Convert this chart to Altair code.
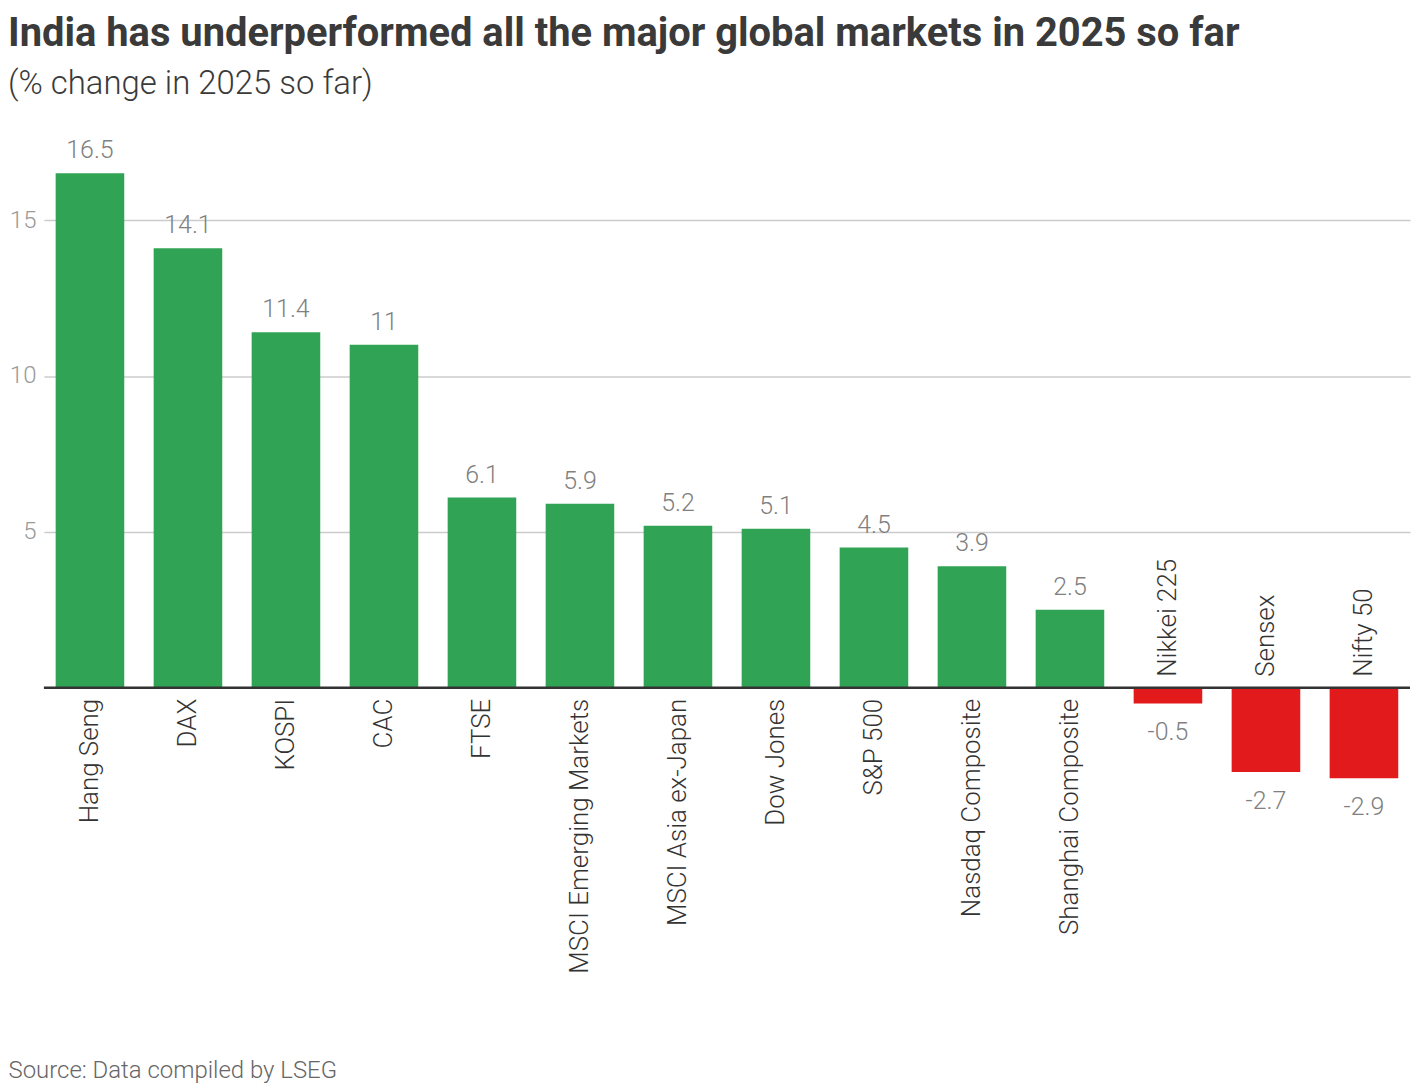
import altair as alt
import pandas as pd

categories = ["Hang Seng", "DAX", "KOSPI", "CAC", "FTSE", "MSCI Emerging Markets",
              "MSCI Asia ex-Japan", "Dow Jones", "S&P 500", "Nasdaq Composite",
              "Shanghai Composite", "Nikkei 225", "Sensex", "Nifty 50"]
values = [16.5, 14.1, 11.4, 11.0, 6.1, 5.9, 5.2, 5.1, 4.5, 3.9, 2.5, -0.5, -2.7, -2.9]
value_labels = ["16.5", "14.1", "11.4", "11", "6.1", "5.9", "5.2", "5.1", "4.5",
                "3.9", "2.5", "-0.5", "-2.7", "-2.9"]
y_ticks = [5, 10, 15]

df = pd.DataFrame({"name": categories, "value": values, "label": value_labels})
df["sign"] = ["pos" if v >= 0 else "neg" for v in values]

FONT = "Roboto"
W, H = 1370, 641

x = alt.X("name:N", sort=categories,
          scale=alt.Scale(paddingInner=0.3, paddingOuter=0.12),
          axis=alt.Axis(labels=False, ticks=False, domain=False,
                        title="Source: Data compiled by LSEG",
                        titleAnchor="start", titleAlign="left",
                        titleX=-36, titleY=297, titleBaseline="alphabetic",
                        titleFont=FONT, titleFontSize=24, titleFontWeight=300,
                        titleColor="#666666"))
y = alt.Y("value:Q", scale=alt.Scale(domain=[-3, 17.5], nice=False, zero=False),
          axis=alt.Axis(values=y_ticks, title=None, domain=False, ticks=False,
                        labelPadding=8, labelFont=FONT, labelFontSize=24,
                        labelColor="#999999", labelFontWeight=300,
                        grid=True, gridColor="#cccccc", gridWidth=1.5))

base = alt.Chart(df)

bars = base.mark_bar().encode(
    x=x, y=y,
    color=alt.Color("sign:N", scale=alt.Scale(domain=["pos", "neg"],
                                              range=["#31a354", "#e31a1c"]), legend=None)
)

zero = alt.Chart(pd.DataFrame({"z": [0]})).mark_rule(color="#333333", strokeWidth=2.5).encode(
    y=alt.Y("z:Q")
)

pos = base.transform_filter(alt.datum.value >= 0)
neg = base.transform_filter(alt.datum.value < 0)

val_pos = pos.mark_text(font=FONT, fontSize=25, fontWeight=300, color="#808080",
                        baseline="alphabetic", dy=-15).encode(
    x=alt.X("name:N", sort=categories), y=alt.Y("value:Q"), text="label:N")
val_neg = neg.mark_text(font=FONT, fontSize=25, fontWeight=300, color="#808080",
                        baseline="top", dy=17).encode(
    x=alt.X("name:N", sort=categories), y=alt.Y("value:Q"), text="label:N")

cat_pos = pos.mark_text(font=FONT, fontSize=26, fontWeight=300, color="#333333",
                        angle=270, align="right", baseline="middle", dx=-11).encode(
    x=alt.X("name:N", sort=categories), y=alt.datum(0), text="name:N")
cat_neg = neg.mark_text(font=FONT, fontSize=26, fontWeight=300, color="#333333",
                        angle=270, align="left", baseline="middle", dx=11).encode(
    x=alt.X("name:N", sort=categories), y=alt.datum(0), text="name:N")

chart = alt.layer(bars, zero, val_pos, val_neg, cat_pos, cat_neg).properties(
    width=W, height=H,
    padding={"left": 0, "right": 0, "top": 4, "bottom": 0},
    title=alt.TitleParams(
        text="India has underperformed all the major global markets in 2025 so far",
        subtitle="(% change in 2025 so far)",
        anchor="start", font=FONT, fontSize=40, fontWeight="bold", color="#3a3a3a",
        subtitleFont=FONT, subtitleFontSize=33, subtitleFontWeight=300,
        subtitleColor="#3a3a3a", subtitlePadding=14, offset=38)
).configure_view(stroke=None)

chart.save("out.html", embed_options={"renderer": "svg", "actions": False})
